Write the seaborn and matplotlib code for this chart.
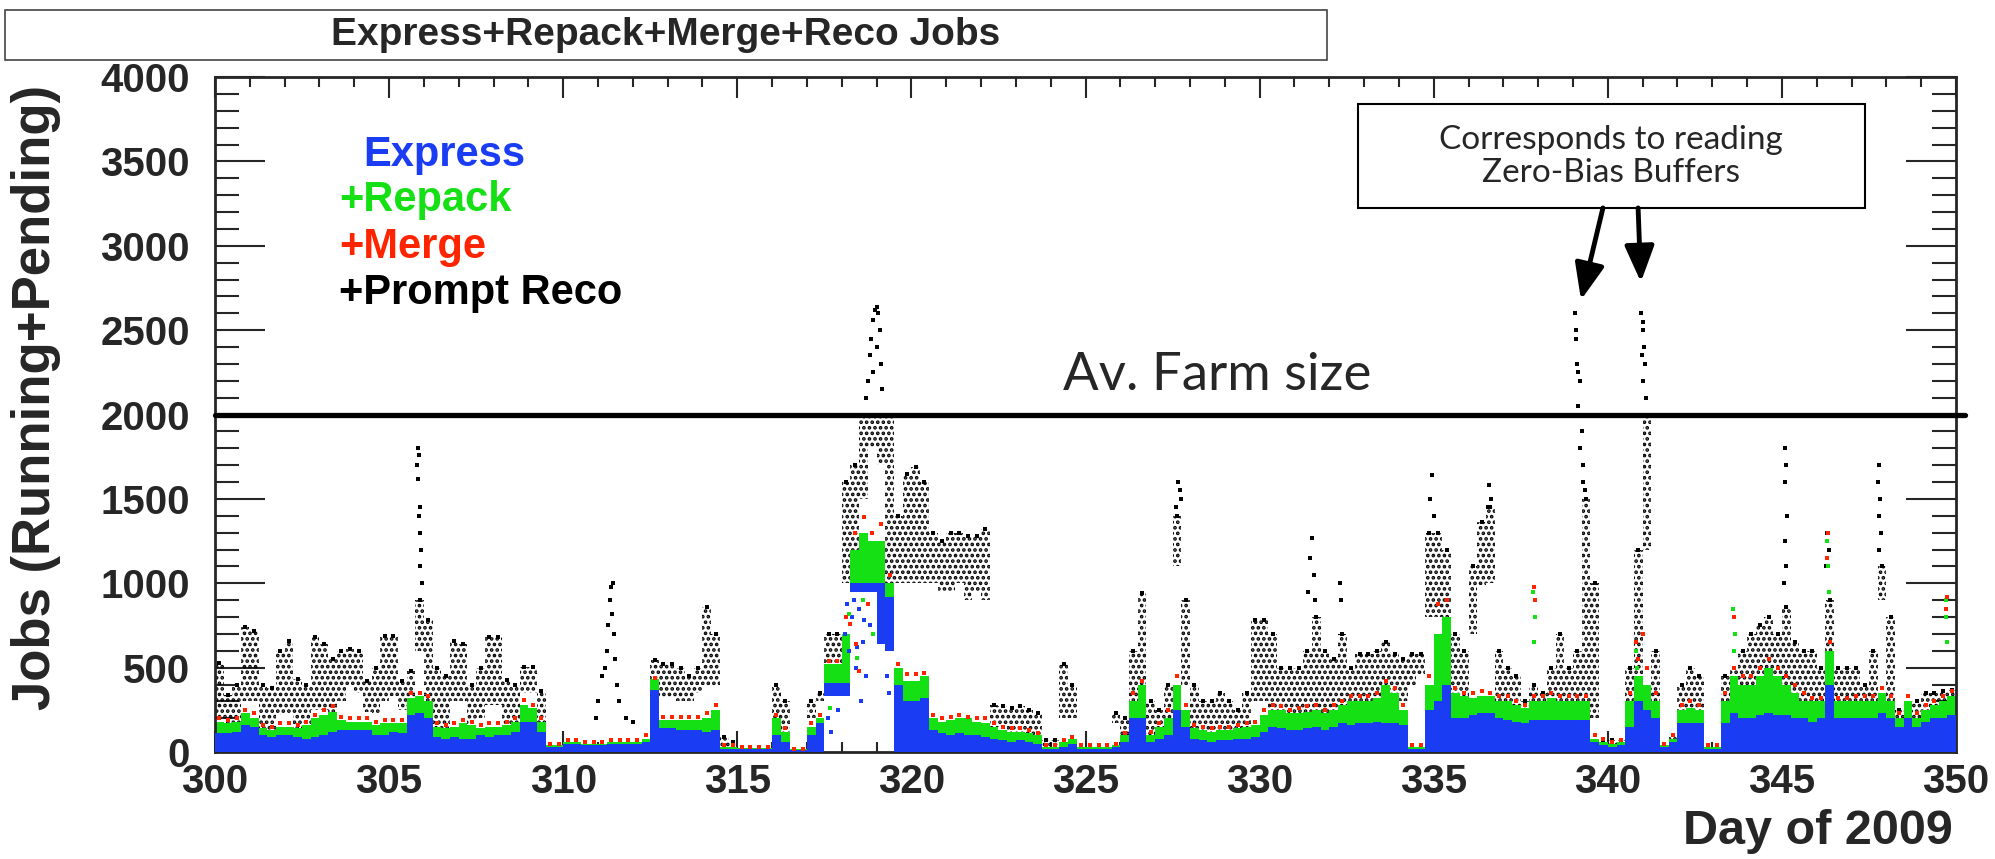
import numpy as np
import pandas as pd
import seaborn as sns
import matplotlib
matplotlib.use('Agg')
from matplotlib import pyplot as plt
from matplotlib.patches import Rectangle

# quarter-day bins starting at day 300.00 (4 values per day, 5 days per row)
blue = [
    110, 110, 120, 160,  150, 100, 90, 100,  100, 90, 80, 90,  100, 120, 130, 130,  130, 130, 100, 100,
    120, 110, 220, 230,  200, 90, 80, 90,  80, 80, 100, 90,  100, 100, 120, 180,  180, 120, 30, 30,
    50, 50, 40, 40,  40, 50, 50, 50,  50, 60, 370, 140,  140, 130, 130, 130,  120, 130, 20, 20,
    20, 20, 20, 20,  100, 60, 10, 10,  100, 170, 0, 0,  0, 0, 0, 0,  0, 0, 400, 300,
    300, 320, 130, 110,  100, 110, 100, 100,  90, 80, 70, 60,  70, 60, 50, 20,  20, 30, 50, 20,
    20, 20, 20, 30,  60, 200, 200, 60,  80, 100, 250, 150,  80, 70, 60, 70,  70, 80, 80, 90,
    120, 150, 140, 130,  130, 140, 150, 130,  150, 170, 160, 170,  170, 180, 170, 170,  160, 20, 20, 250,
    300, 400, 200, 200,  220, 230, 230, 200,  190, 180, 170, 190,  190, 190, 190, 190,  190, 190, 60, 40,
    30, 40, 150, 300,  250, 200, 30, 60,  170, 170, 170, 20,  20, 170, 230, 200,  200, 220, 230, 220,
    220, 200, 200, 180,  200, 400, 200, 200,  200, 200, 200, 230,  200, 150, 200, 150,  180, 200, 200, 220,
]
green = [
    180, 170, 180, 230,  200, 140, 130, 150,  150, 140, 160, 200,  220, 240, 190, 180,  180, 180, 160, 170,
    170, 170, 320, 330,  300, 150, 140, 150,  170, 160, 140, 150,  150, 160, 180, 280,  260, 180, 40, 40,
    60, 60, 50, 50,  50, 60, 60, 60,  60, 80, 430, 190,  190, 190, 190, 190,  200, 250, 30, 30,
    25, 25, 25, 25,  200, 120, 15, 15,  150, 200, 0, 0,  0, 0, 0, 0,  0, 0, 500, 420,
    420, 450, 200, 180,  190, 200, 200, 180,  170, 150, 130, 120,  120, 110, 100, 30,  30, 60, 80, 30,
    30, 30, 30, 40,  100, 300, 400, 100,  150, 200, 400, 250,  140, 130, 120, 130,  130, 140, 150, 160,
    220, 250, 250, 230,  230, 240, 250, 230,  250, 280, 300, 300,  300, 320, 400, 350,  250, 30, 30, 400,
    700, 800, 350, 330,  320, 330, 330, 300,  300, 280, 260, 300,  300, 320, 300, 300,  300, 300, 80, 60,
    50, 60, 300, 450,  400, 300, 40, 80,  250, 260, 250, 30,  30, 300, 450, 400,  400, 450, 500, 450,
    400, 350, 300, 300,  300, 600, 300, 300,  300, 300, 300, 350,  300, 200, 300, 200,  250, 280, 300, 330,
]
red = [
    200, 190, 200, 250,  230, 160, 150, 170,  170, 160, 180, 220,  250, 270, 210, 200,  200, 200, 180, 190,
    190, 190, 350, 350,  330, 170, 160, 170,  190, 180, 160, 170,  170, 180, 200, 310,  280, 200, 50, 50,
    70, 70, 60, 60,  60, 70, 70, 70,  70, 100, 440, 210,  210, 210, 210, 210,  230, 280, 40, 40,
    30, 30, 30, 30,  220, 140, 20, 20,  170, 220, 540, 540,  800, 1300, 1390, 1300,  1350, 1050, 520, 460,
    460, 470, 220, 200,  210, 220, 210, 200,  200, 170, 150, 140,  140, 130, 110, 40,  40, 70, 90, 40,
    40, 40, 40, 50,  110, 350, 420, 120,  170, 250, 450, 280,  160, 150, 140, 150,  150, 160, 170, 180,
    250, 280, 270, 250,  260, 270, 280, 250,  280, 300, 330, 330,  330, 350, 420, 380,  280, 40, 40, 450,
    875, 900, 380, 350,  350, 360, 350, 330,  330, 300, 280, 330,  330, 350, 330, 330,  330, 330, 100, 80,
    60, 70, 350, 550,  500, 350, 50, 100,  280, 300, 280, 40,  40, 350, 500, 450,  450, 500, 550, 500,
    450, 400, 350, 320,  320, 650, 320, 320,  330, 330, 330, 380,  330, 230, 330, 230,  280, 300, 330, 360,
]
reco_low = [
    200, 110, 110, 300,  300, 110, 110, 220,  230, 130, 110, 250,  250, 220, 300, 400,  350, 240, 230, 300,
    330, 250, 300, 600,  300, 110, 110, 300,  300, 110, 200, 280,  280, 110, 130, 350,  350, 110, 0, 0,
    0, 0, 0, 0,  0, 0, 0, 0,  0, 0, 320, 320,  320, 300, 300, 350,  400, 400, 30, 20,
    0, 0, 0, 0,  50, 50, 0, 0,  200, 300, 500, 500,  1000, 1000, 1500, 1800,  1700, 1000, 1000, 1000,
    1000, 1000, 1000, 950,  950, 1000, 900, 950,  900, 150, 150, 120,  110, 110, 100, 30,  30, 200, 200, 0,
    0, 0, 0, 170,  100, 200, 400, 100,  100, 150, 1100, 400,  100, 100, 100, 100,  100, 100, 150, 300,
    300, 250, 200, 200,  200, 200, 200, 200,  200, 200, 200, 200,  200, 250, 300, 250,  300, 400, 450, 800,
    800, 800, 300, 250,  700, 988, 1000, 300,  200, 200, 110, 150,  150, 150, 150, 150,  150, 300, 200, 30,
    30, 30, 100, 200,  1200, 200, 10, 30,  200, 200, 200, 0,  0, 200, 200, 300,  300, 300, 400, 400,
    300, 300, 300, 300,  200, 300, 200, 200,  200, 200, 300, 900,  200, 100, 100, 150,  200, 200, 200, 250,
]
reco_high = [
    530, 340, 400, 740,  720, 400, 380, 600,  660, 430, 400, 680,  640, 550, 600, 610,  600, 420, 500, 690,
    690, 420, 480, 900,  780, 500, 450, 660,  640, 400, 500, 680,  680, 425, 400, 505,  505, 360, 0, 0,
    0, 0, 0, 0,  0, 0, 0, 0,  0, 0, 545, 520,  520, 500, 450, 500,  860, 700, 90, 60,
    0, 0, 0, 0,  400, 300, 0, 0,  300, 350, 700, 700,  1600, 1700, 2000, 2000,  2000, 2000, 1400, 1650,
    1690, 1600, 1300, 1250,  1300, 1300, 1280, 1280,  1320, 280, 270, 260,  270, 250, 230, 70,  70, 520, 400, 0,
    0, 0, 0, 230,  200, 600, 940, 300,  250, 400, 1400, 900,  400, 300, 300, 350,  300, 250, 350, 780,
    780, 700, 500, 500,  500, 600, 800, 600,  550, 700, 500, 580,  580, 600, 650, 580,  550, 580, 580, 1300,
    1300, 1200, 700, 600,  1100, 1365, 1450, 600,  500, 450, 300, 400,  350, 500, 700, 500,  600, 1500, 1000, 70,
    70, 70, 500, 1200,  2000, 600, 40, 100,  400, 500, 450, 0,  0, 450, 500, 600,  700, 750, 800, 700,
    860, 650, 600, 600,  500, 900, 500, 500,  500, 400, 600, 1100,  800, 250, 200, 300,  350, 350, 360, 370,
]

# the day 317.5-319.5 surge: colour bands floating above zero
surge_day = [317.5, 317.75, 318.0, 318.25, 318.5, 318.75, 319.0, 319.25]
surge_blue_lo = [330, 330, 330, 950, 950, 950, 640, 600]
surge_blue_hi = [410, 410, 410, 1000, 1000, 1000, 1000, 920]
surge_green_hi = [520, 520, 700, 1200, 1300, 1250, 1250, 1000]

# isolated points (day, jobs)
reco_spike_day = [305.82, 305.85, 305.80, 305.83, 305.90, 305.86, 305.88, 305.92, 305.90, 305.95,
                  310.95, 311.00, 311.10, 311.20, 311.25, 311.30, 311.35, 311.38, 311.42, 311.40,
                  311.45, 311.50, 311.55, 311.60, 311.80, 312.00,
                  318.70, 318.75, 318.80, 318.85, 318.90, 318.95, 319.00, 319.05, 319.10, 319.12,
                  319.15, 318.90, 319.00,
                  327.65, 327.70, 327.75, 327.60, 331.50, 331.45, 331.55, 331.40, 331.60, 332.30,
                  332.35, 334.95, 334.90, 335.00, 336.60, 336.65, 336.55,
                  339.05, 339.08, 339.10, 339.12, 339.15, 339.20, 339.15, 339.22, 339.25, 339.20,
                  339.28, 339.30, 339.35,
                  340.95, 341.00, 341.02, 341.05, 340.98, 341.08, 341.00, 341.10, 340.90,
                  345.10, 345.12, 345.08, 345.15, 345.10, 345.13, 345.05, 346.30, 346.35, 346.28,
                  347.80, 347.75, 347.82, 347.78, 347.85, 347.80, 347.88]
reco_spike_jobs = [1800, 1760, 1700, 1620, 1450, 1400, 1300, 1200, 1100, 1000,
                   200, 300, 450, 500, 600, 750, 900, 980, 1000, 820,
                   700, 550, 400, 300, 200, 180,
                   2100, 2200, 2350, 2450, 2560, 2620, 2640, 2600, 2500, 2300,
                   2150, 2250, 2400,
                   1600, 1550, 1500, 1450, 1270, 1150, 1050, 950, 900, 1000,
                   900, 1640, 1500, 1400, 1580, 1500, 1450,
                   2600, 2500, 2450, 2300, 2250, 2200, 2050, 2000, 1900, 1800,
                   1700, 1600, 1550,
                   2600, 2550, 2500, 2400, 2350, 2300, 2200, 2100, 2000,
                   1800, 1700, 1600, 1400, 1250, 1100, 1000, 1300, 1200, 1100,
                   1700, 1600, 1500, 1400, 1300, 1200, 1100]
express_spike_day = [318.10, 318.20, 318.30, 318.40, 318.50, 318.60, 318.70, 318.80, 318.35, 318.55,
                     319.30, 319.35, 317.60, 317.70, 317.90, 318.15, 318.45, 318.65]
express_spike_jobs = [700, 600, 800, 500, 850, 650, 450, 750, 900, 300,
                      450, 350, 200, 120, 250, 880, 620, 780]
repack_spike_day = [337.85, 337.90, 337.88, 343.60, 343.65, 343.62, 346.30, 346.32, 346.35,
                    349.70, 349.72, 349.75, 340.80, 340.85, 318.20, 318.45, 318.60, 318.90, 317.65]
repack_spike_jobs = [950, 800, 650, 850, 700, 600, 1250, 1100, 950, 900, 800, 650, 600, 500,
                     820, 560, 900, 700, 260]
merge_spike_day = [337.87, 337.90, 343.62, 346.33, 346.30, 349.73, 349.70, 340.82, 341.00,
                   318.25, 318.50, 318.75, 318.40]
merge_spike_jobs = [980, 900, 800, 1300, 1150, 920, 850, 650, 700, 760, 480, 880, 640]

BLUE = '#1a3cf2'
GREEN = '#14e014'
RED = '#ff2400'

sns.set_style('ticks')
plt.rcParams['font.family'] = ['Liberation Sans', 'DejaVu Sans']
plt.rcParams['hatch.linewidth'] = 1.8
plt.rcParams['hatch.color'] = 'black'

nbin = len(blue)
day = 300 + 0.25 * np.arange(nbin) + 0.125
lo = np.array(reco_low)
hi = np.array(reco_high)
sday = np.array(surge_day) + 0.125
sblo = np.array(surge_blue_lo)
sbhi = np.array(surge_blue_hi)
sghi = np.array(surge_green_hi)

fig = plt.figure(figsize=(19.95, 8.59), dpi=100)
ax = fig.add_axes([215 / 1995, 107 / 859, 1741 / 1995, 675 / 859])

# prompt reco cloud
ax.bar(day, hi - lo, bottom=lo, width=0.25, facecolor='none', edgecolor='black',
       linewidth=0, hatch='...', zorder=1)
sns.scatterplot(x=day[hi > 0], y=hi[hi > 0], color='black', marker='s', s=7, linewidth=0,
                ax=ax, zorder=1.5)
sns.scatterplot(x=reco_spike_day, y=reco_spike_jobs, color='black', marker='s', s=7,
                linewidth=0, ax=ax, zorder=1.5)

# express / repack bands
ax.bar(day, green, width=0.25, color=GREEN, linewidth=0, zorder=2)
ax.bar(day, blue, width=0.25, color=BLUE, linewidth=0, zorder=3)
ax.bar(sday, sghi - sbhi, bottom=sbhi, width=0.25, color=GREEN, linewidth=0, zorder=2)
ax.bar(sday, sbhi - sblo, bottom=sblo, width=0.25, color=BLUE, linewidth=0, zorder=3)

sns.scatterplot(x=express_spike_day, y=express_spike_jobs, color=BLUE, marker='s', s=9,
                linewidth=0, ax=ax, zorder=4)
sns.scatterplot(x=repack_spike_day, y=repack_spike_jobs, color=GREEN, marker='s', s=9,
                linewidth=0, ax=ax, zorder=4)
sns.scatterplot(x=day, y=red, color=RED, marker='s', s=9, linewidth=0, ax=ax, zorder=4)
sns.scatterplot(x=merge_spike_day, y=merge_spike_jobs, color=RED, marker='s', s=9,
                linewidth=0, ax=ax, zorder=4)

ax.set_xlim(300, 350)
ax.set_ylim(0, 4000)
ax.set_xticks(range(300, 351, 5))
ax.set_xticks(range(300, 351, 1), minor=True)
ax.set_yticks(range(0, 4001, 500))
ax.set_yticks(range(0, 4001, 100), minor=True)
ax.tick_params(axis='both', which='both', direction='in', top=True, right=True, width=1.5,
               labelsize=29)
ax.tick_params(axis='x', which='major', length=15, pad=8)
ax.tick_params(axis='x', which='minor', length=7)
ax.tick_params(axis='y', which='major', length=36, pad=18)
ax.tick_params(axis='y', which='minor', length=17)
for lab in ax.get_xticklabels() + ax.get_yticklabels():
    lab.set_fontweight('bold')
for sp in ax.spines.values():
    sp.set_linewidth(2)
ax.set_xlabel('')
ax.set_ylabel('')

# average farm size
ax.axhline(2000, xmin=0, xmax=1.005, color='black', lw=3.8, clip_on=False, zorder=6)
ax.text(324.35, 2145, 'Av. Farm size', fontsize=38, family=['Lato', 'DejaVu Sans'],
        ha='left', va='baseline', zorder=7)

# legend as coloured text
ax.text(304.25, 3538, 'Express', color=BLUE, fontsize=30, fontweight='bold', va='center')
ax.text(303.56, 3271, '+Repack', color=GREEN, fontsize=30, fontweight='bold', va='center')
ax.text(303.56, 2993, '+Merge', color=RED, fontsize=30, fontweight='bold', va='center')
ax.text(303.56, 2720, '+Prompt Reco', color='black', fontsize=30, fontweight='bold', va='center')

# annotation box and arrows
ax.add_patch(Rectangle((332.83, 3224), 347.39 - 332.83, 3840 - 3224, facecolor='white',
                       edgecolor='black', lw=1.5, zorder=7))
ax.text(340.1, 3627, 'Corresponds to reading', fontsize=24, family=['Lato', 'DejaVu Sans'],
        ha='center', va='center', zorder=8)
ax.text(340.1, 3431, 'Zero-Bias Buffers', fontsize=24, family=['Lato', 'DejaVu Sans'],
        ha='center', va='center', zorder=8)
for x0, x1, y1 in [(339.86, 339.23, 2679), (340.87, 340.95, 2785)]:
    ax.annotate('', xy=(x1, y1), xytext=(x0, 3224), zorder=8,
                arrowprops=dict(arrowstyle='-|>,head_length=1.1,head_width=0.45', lw=3.5,
                                color='black', shrinkA=0, shrinkB=0, mutation_scale=20))

# title box
fig.patches.append(Rectangle((5 / 1995, 1 - 60 / 859), 1322 / 1995, 50 / 859,
                             transform=fig.transFigure, facecolor='white',
                             edgecolor='#444444', lw=1.2))
fig.text(666 / 1995, 1 - 35 / 859, 'Express+Repack+Merge+Reco Jobs', fontsize=28,
         fontweight='bold', ha='center', va='center')

fig.text(36 / 1995, 1 - 397 / 859, 'Jobs (Running+Pending)', rotation=90, fontsize=38,
         fontweight='bold', ha='center', va='center')
fig.text(1953 / 1995, 1 - 832 / 859, 'Day of 2009', fontsize=35, fontweight='bold',
         ha='right', va='center')

fig.savefig('out.png', dpi=100)
